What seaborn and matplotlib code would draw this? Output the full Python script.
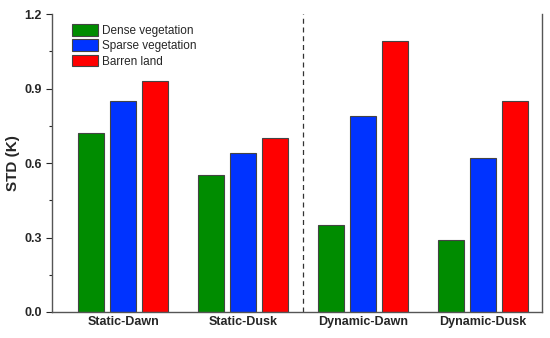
import pandas as pd
import matplotlib.pyplot as plt
import seaborn as sns
from matplotlib.ticker import MultipleLocator

scenarios = ["Static-Dawn", "Static-Dusk", "Dynamic-Dawn", "Dynamic-Dusk"]
surfaces = ["Dense vegetation", "Sparse vegetation", "Barren land"]
dense = [0.72, 0.55, 0.35, 0.29]
sparse = [0.85, 0.64, 0.79, 0.62]
barren = [0.93, 0.70, 1.09, 0.85]
colors = ["#008c00", "#0033ff", "#ff0000"]

rows = []
for name, vals in zip(surfaces, [dense, sparse, barren]):
    for sc, v in zip(scenarios, vals):
        rows.append({"Scenario": sc, "Surface": name, "STD": v})
df = pd.DataFrame(rows)

sns.set_style("ticks")
plt.rcParams["font.family"] = ["Liberation Sans", "DejaVu Sans"]

fig, ax = plt.subplots(figsize=(5.5, 3.38), dpi=100)
fig.subplots_adjust(left=0.095, right=0.985, top=0.958, bottom=0.077)

sns.barplot(
    data=df, x="Scenario", y="STD", hue="Surface",
    order=scenarios, hue_order=surfaces, palette=colors,
    width=0.8, gap=0.19, edgecolor="#444444", linewidth=0.8,
    saturation=1, ax=ax
)

ax.axvline(1.5, ymin=0, ymax=1, color="#333333", linestyle=(0, (4, 3)), linewidth=0.9)

ax.set_xlim(-0.59, 3.49)
ax.set_ylim(0, 1.2)
ax.yaxis.set_major_locator(MultipleLocator(0.3))
ax.yaxis.set_minor_locator(MultipleLocator(0.15))
ax.set_yticklabels([f"{t:.1f}" for t in ax.get_yticks()])
ax.tick_params(axis="y", which="major", length=4, width=0.8, labelsize=9)
ax.tick_params(axis="y", which="minor", length=2.5, width=0.8)
ax.tick_params(axis="x", length=0, labelsize=9, pad=3)
for lbl in ax.get_xticklabels() + ax.get_yticklabels():
    lbl.set_fontweight("bold")

ax.set_xlabel("")
ax.set_ylabel("STD (K)", fontsize=11, fontweight="bold", labelpad=3)

ax.spines["top"].set_visible(False)
for s in ["left", "right", "bottom"]:
    ax.spines[s].set_color("#555555")
    ax.spines[s].set_linewidth(1.0)

ax.legend(
    loc="upper left", bbox_to_anchor=(0.025, 0.99), frameon=False,
    fontsize=8.5, handlelength=2.2, handleheight=1.15,
    labelspacing=0.2, handletextpad=0.4, borderaxespad=0.2
)

plt.savefig("out.png", dpi=100)
